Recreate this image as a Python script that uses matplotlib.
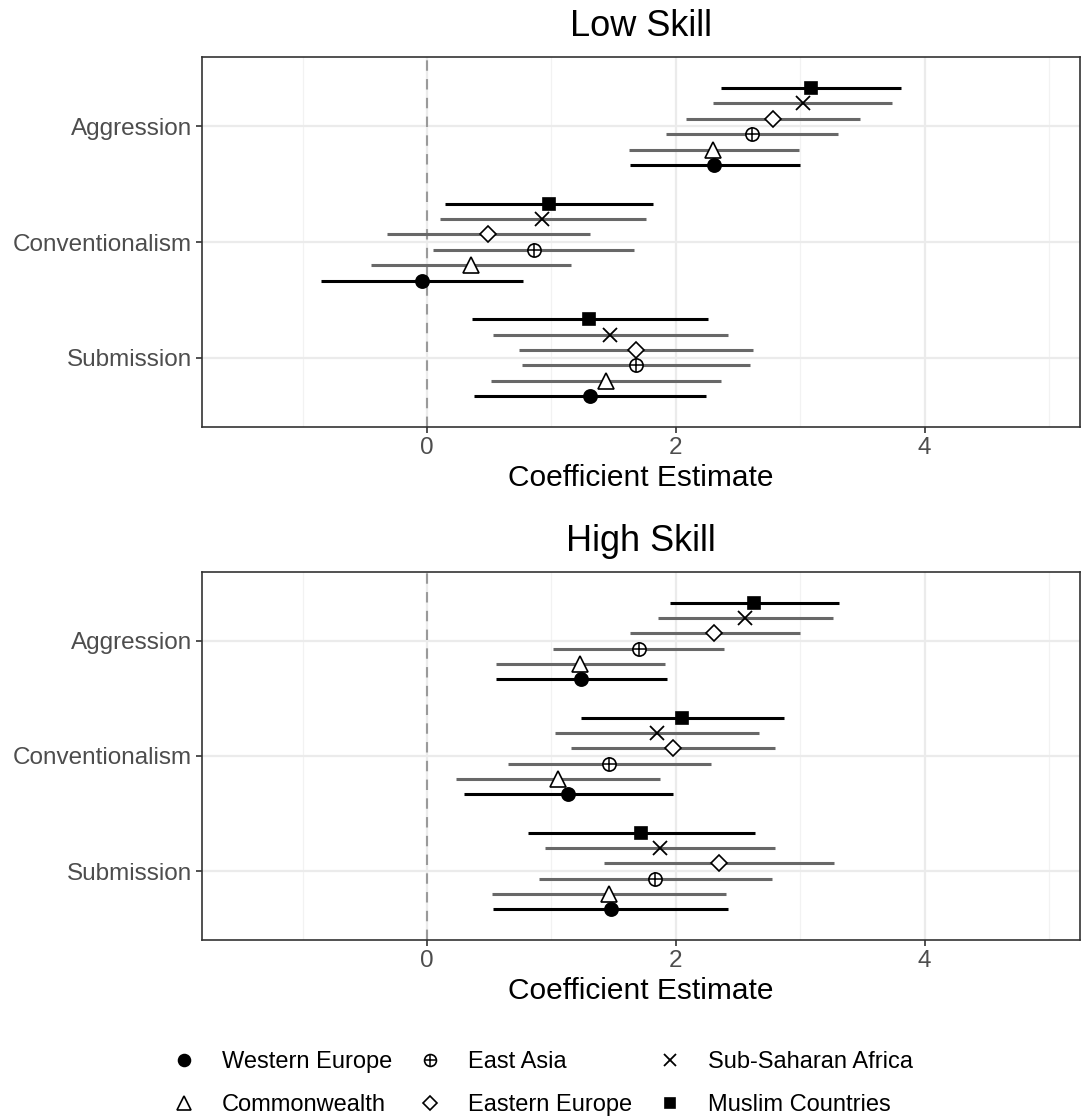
import numpy as np
import matplotlib
matplotlib.use("Agg")
import matplotlib.pyplot as plt
from matplotlib.lines import Line2D
from matplotlib.legend_handler import HandlerTuple

plt.rcParams['font.family'] = ['Liberation Sans', 'DejaVu Sans']

traits = ["Submission", "Conventionalism", "Aggression"]
regions = ["Western Europe", "Commonwealth", "East Asia",
           "Eastern Europe", "Sub-Saharan Africa", "Muslim Countries"]

# rows follow regions, columns follow traits
low_est = [[1.31, -0.04, 2.31],
           [1.44, 0.35, 2.30],
           [1.68, 0.86, 2.61],
           [1.68, 0.49, 2.78],
           [1.47, 0.92, 3.02],
           [1.30, 0.98, 3.09]]
low_lo = [[0.38, -0.85, 1.63],
          [0.51, -0.45, 1.62],
          [0.76, 0.05, 1.92],
          [0.74, -0.32, 2.08],
          [0.53, 0.10, 2.30],
          [0.36, 0.14, 2.36]]
low_hi = [[2.24, 0.77, 3.00],
          [2.36, 1.16, 2.99],
          [2.60, 1.66, 3.30],
          [2.62, 1.31, 3.48],
          [2.42, 1.76, 3.74],
          [2.26, 1.82, 3.81]]

high_est = [[1.48, 1.13, 1.24],
            [1.46, 1.05, 1.23],
            [1.83, 1.46, 1.70],
            [2.35, 1.98, 2.31],
            [1.87, 1.85, 2.56],
            [1.72, 2.05, 2.63]]
high_lo = [[0.53, 0.30, 0.55],
           [0.52, 0.23, 0.55],
           [0.90, 0.65, 1.01],
           [1.42, 1.16, 1.63],
           [0.95, 1.03, 1.86],
           [0.81, 1.24, 1.95]]
high_hi = [[2.42, 1.98, 1.93],
           [2.40, 1.87, 1.91],
           [2.77, 2.28, 2.39],
           [3.27, 2.80, 3.00],
           [2.80, 2.67, 3.26],
           [2.64, 2.87, 3.31]]

line_cols = ['black', '#686868', '#686868', '#686868', '#686868', 'black']
# marker style per region: (marker, size, filled)
mstyle = [('o', 9.5, True), ('^', 11.5, False), ('o', 9.5, False),
          ('D', 8.4, False), ('x', 10.0, False), ('s', 8.6, True)]

dodge = 0.8 / 6
offsets = (np.arange(6) - 2.5) * dodge


def point_handle(i, ax=None, x=None, y=None, scale=1.0):
    m, ms, filled = mstyle[i]
    ms = ms * scale
    kw = dict(linestyle='none', marker=m, markersize=ms,
              markeredgecolor='black', markeredgewidth=1.2,
              markerfacecolor='black' if filled else 'white')
    if m == 'x':
        kw['markeredgewidth'] = 1.3
    if ax is None:
        h = Line2D([], [], **kw)
    else:
        h = ax.plot(x, y, zorder=4, **kw)[0]
    if i == 2:
        pkw = dict(linestyle='none', marker='+', markersize=ms,
                   markeredgecolor='black', markeredgewidth=1.1)
        if ax is None:
            return (h, Line2D([], [], **pkw))
        ax.plot(x, y, zorder=5, **pkw)
    return h


def draw(ax, est, lo, hi, title):
    ypos = np.arange(1, len(traits) + 1)
    for i in range(len(regions)):
        y = ypos + offsets[i]
        ax.hlines(y, lo[i], hi[i], color=line_cols[i], linewidth=2.2, zorder=3)
        point_handle(i, ax, est[i], y)
    ax.axvline(0, color='#9a9a9a', linestyle=(0, (5, 4)), linewidth=1.5, zorder=2)
    ax.set_xlim(-1.81, 5.25)
    ax.set_ylim(0.4, 3.6)
    ax.set_yticks(ypos)
    ax.set_yticklabels(traits)
    ax.set_xticks([0, 2, 4])
    ax.set_xticks([-1, 1, 3, 5], minor=True)
    ax.grid(True, which='major', color='#ebebeb', linewidth=1.6, zorder=0)
    ax.grid(True, which='minor', axis='x', color='#f2f2f2', linewidth=0.9, zorder=0)
    ax.set_axisbelow(True)
    for s in ax.spines.values():
        s.set_color('#333333')
        s.set_linewidth(1.2)
    ax.tick_params(which='major', length=4, width=1.2, color='#333333',
                   labelsize=17.5, labelcolor='#4d4d4d', pad=3)
    ax.tick_params(which='minor', length=0)
    ax.set_xlabel("Coefficient Estimate", fontsize=21.5, color='black', labelpad=4)
    ax.set_title(title, fontsize=26, color='black', pad=15)


fig = plt.figure(figsize=(10.81, 11.2), dpi=100)
ax1 = fig.add_axes([0.1869, 0.6187, 0.8122, 0.3303])
ax2 = fig.add_axes([0.1869, 0.1607, 0.8122, 0.3286])
draw(ax1, low_est, low_lo, low_hi, "Low Skill")
draw(ax2, high_est, high_lo, high_hi, "High Skill")

handles = [point_handle(i, scale=0.9) for i in range(len(regions))]
fig.legend(handles, regions, loc='center', bbox_to_anchor=(0.502, 0.0325),
           ncol=3, frameon=False, fontsize=17, handlelength=1.0,
           handletextpad=1.1, columnspacing=1.1, labelspacing=0.9,
           handler_map={tuple: HandlerTuple(ndivide=1, pad=0)})

fig.savefig("out.png", dpi=100)
